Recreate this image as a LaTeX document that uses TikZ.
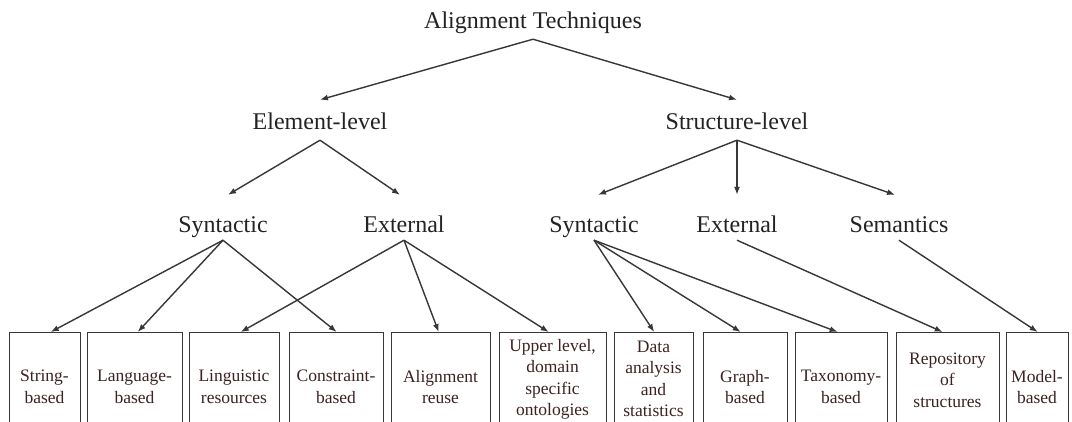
\documentclass[tikz,border=0pt]{standalone}
\usepackage{fontspec}
\setmainfont{Liberation Serif}
\usetikzlibrary{arrows.meta,calc}
\definecolor{linec}{RGB}{55,55,55}
\definecolor{labc}{RGB}{35,35,35}
\definecolor{btxtc}{RGB}{62,34,34}
\begin{document}
\begin{tikzpicture}[x=1pt,y=-1pt,
  arr/.style={draw=linec, line width=1.4pt, -{Latex[length=8pt,width=6pt]}},
  lab/.style={inner sep=0pt, anchor=base, text=labc, font=\fontsize{24}{28}\selectfont},
  lzero/.style={lab, text height=18pt, text depth=11pt},
  lone/.style={lab, text height=29pt, text depth=11pt},
  ltwo/.style={lab, text height=37pt, text depth=8pt},
  frame/.style={draw=linec, line width=1.4pt, inner sep=0pt, anchor=north west, minimum height=110pt},
  btxt/.style={align=center, text=btxtc, font=\fontsize{17.5}{21.5}\selectfont, inner sep=0pt}
]
\useasboundingbox (0,0) rectangle (1072,421);
\fill[white] (0,0) rectangle (1072,421);
\clip (0,0) rectangle (1072,421);

% labels
\node[lzero] (at) at (533,28) {Alignment Techniques};
\node[lone] (el) at (320,129) {Element-level};
\node[lone] (sl) at (737,129) {Structure-level};
\node[ltwo] (s1) at (223,232) {Syntactic};
\node[ltwo] (e1) at (404,232) {External};
\node[ltwo] (s2) at (594,232) {Syntactic};
\node[ltwo] (e2) at (737,232) {External};
\node[ltwo] (sem) at (899,232) {Semantics};

% boxes
\node[frame, minimum width=71pt]  (b1)  at (9,332) {};
\node[frame, minimum width=95pt]  (b2)  at (87,332) {};
\node[frame, minimum width=90pt]  (b3)  at (189,332) {};
\node[frame, minimum width=94pt]  (b4)  at (289,332) {};
\node[frame, minimum width=99pt]  (b5)  at (391,332) {};
\node[frame, minimum width=107pt] (b6)  at (499,332) {};
\node[frame, minimum width=79pt]  (b7)  at (614,332) {};
\node[frame, minimum width=84pt]  (b8)  at (703,332) {};
\node[frame, minimum width=92pt]  (b9)  at (795,332) {};
\node[frame, minimum width=103pt] (b10) at (896,332) {};
\node[frame, minimum width=62pt]  (b11) at (1006,332) {};

% box texts
\node[btxt] (t1)  at (44.5,387)  {String-\\based};
\node[btxt] (t2)  at (134.5,387) {Language-\\based};
\node[btxt] (t3)  at (234,387)   {Linguistic\\resources};
\node[btxt] (t4)  at (336,387)   {Constraint-\\based};
\node[btxt] (t5)  at (440.5,387) {Alignment\\reuse};
\node[btxt] (t6)  at (552.5,379.5) {Upper level,\\domain\\specific\\ontologies};
\node[btxt] (t7)  at (653.5,379) {Data\\analysis\\and\\statistics};
\node[btxt] (t8)  at (745,387)   {Graph-\\based};
\node[btxt] (t9)  at (841,387)   {Taxonomy-\\based};
\node[btxt] (t10) at (947.5,380) {Repository\\of\\structures};
\node[btxt] (t11) at (1037,387)  {Model-\\based};

% connectors
\draw[arr] (at.south) -- (el.north);
\draw[arr] (at.south) -- (sl.north);
\draw[arr] (el.south) -- ($(s1.north)+(5,0)$);
\draw[arr] (el.south) -- ($(e1.north)+(-4,0)$);
\draw[arr] (sl.south) -- ($(s2.north)+(4,0)$);
\draw[arr] (sl.south) -- (e2.north);
\draw[arr] (sl.south) -- ($(sem.north)+(-4,0)$);

\draw[arr] (s1.south) -- ($(b1.north)+(5.5,0)$);
\draw[arr] (s1.south) -- ($(b2.north)+(2.5,0)$);
\draw[arr] (s1.south) -- (b4.north);
\draw[arr] (e1.south) -- ($(b3.north)+(6,0)$);
\draw[arr] (e1.south) -- ($(b5.north)+(-2.5,0)$);
\draw[arr] (e1.south) -- ($(b6.north)+(-4.5,0)$);
\draw[arr] (s2.south) -- (b7.north);
\draw[arr] (s2.south) -- ($(b8.north)+(-5,0)$);
\draw[arr] (s2.south) -- ($(b9.north)+(-4,0)$);
\draw[arr] (e2.south) -- ($(b10.north)+(-5.5,0)$);
\draw[arr] (sem.south) -- (b11.north);
\end{tikzpicture}
\end{document}
